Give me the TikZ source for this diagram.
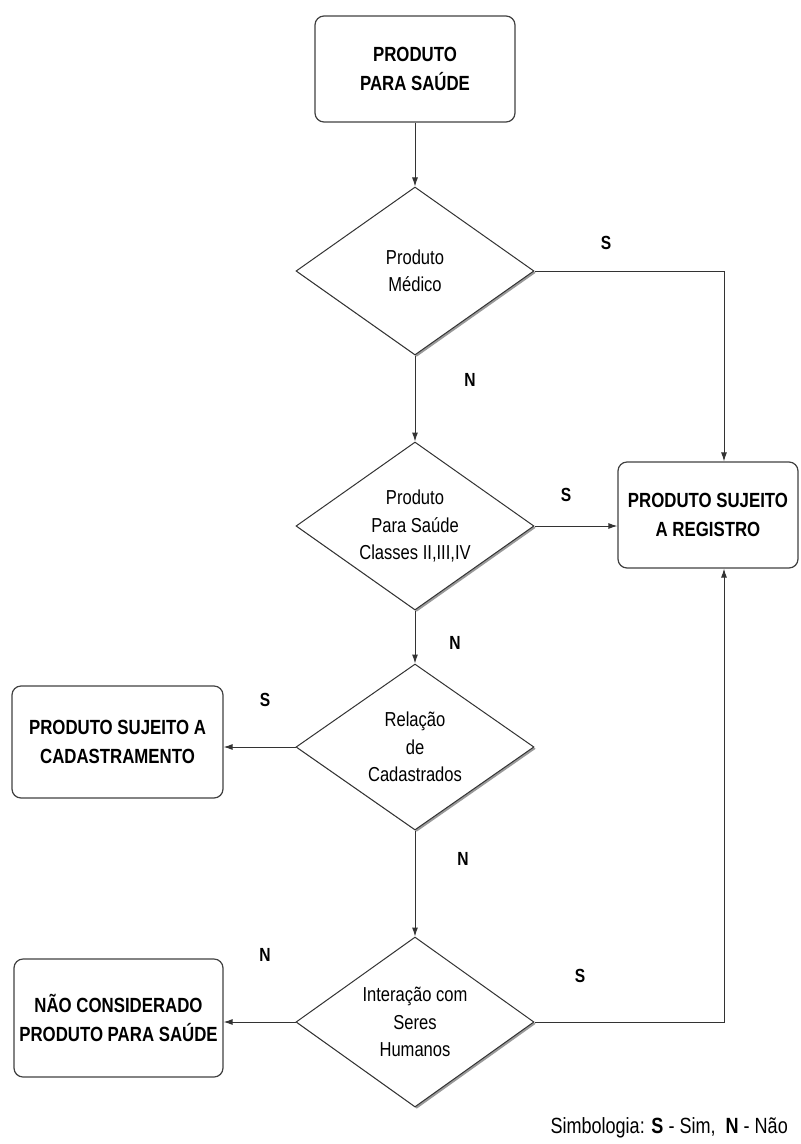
\documentclass[tikz,border=0pt]{standalone}
\usepackage{fontspec}
\setmainfont[FakeStretch=0.82]{Liberation Sans}
\usetikzlibrary{shapes.geometric,arrows.meta,shadows}
\begin{document}
\begin{tikzpicture}[x=1pt,y=-1pt,
  box/.style={draw=black!75, line width=1.2pt, rounded corners=9pt, align=center,
    font=\bfseries\fontsize{20.5}{28.5}\selectfont, inner sep=0pt},
  dec/.style={diamond, draw=black!80, line width=1pt, align=center, inner sep=0pt,
    minimum width=238pt, minimum height=168pt, aspect=1.42, fill=white,
    font=\fontsize{20.2}{27.5}\selectfont,
    drop shadow={shadow xshift=1.8pt, shadow yshift=-1.8pt, fill=black!40, opacity=1}},
  lbl/.style={font=\bfseries\fontsize{19}{20}\selectfont, inner sep=0pt},
  arr/.style={draw=black!80, line width=1pt, -{Latex[length=9pt,width=6pt]}}]
\useasboundingbox (0,0) rectangle (801,1144);
% boxes
\node[box, minimum width=200pt, minimum height=106pt] (top) at (415,69) {PRODUTO\\PARA SAÚDE};
\node[box, minimum width=180pt, minimum height=106pt] (reg) at (708,515) {PRODUTO SUJEITO\\A REGISTRO};
\node[box, minimum width=211pt, minimum height=112pt] (cad) at (117.5,742) {PRODUTO SUJEITO A\\CADASTRAMENTO};
\node[box, minimum width=209pt, minimum height=118pt] (nao) at (118.5,1018) {NÃO CONSIDERADO\\PRODUTO PARA SAÚDE};
% diamonds
\node[dec] (d1) at (415,271) {Produto\\Médico};
\node[dec] (d2) at (415,526) {Produto\\Para Saúde\\Classes II,III,IV};
\node[dec, minimum height=166pt] (d3) at (415,747) {Relação\\de\\Cadastrados};
\node[dec, minimum height=170pt] (d4) at (415,1022) {Interação com\\Seres\\Humanos};
% connectors
\coordinate (c1) at (724,271);
\coordinate (c4) at (724,1022);
\draw[arr] (top) -- (d1);
\draw[arr] (d1) -- (d2);
\draw[arr] (d2) -- (d3);
\draw[arr] (d3) -- (d4);
\draw[arr] (d1.east) -- (c1) -- (c1 |- reg.north);
\draw[arr] (d2.east) -- (d2.east -| reg.west);
\draw[arr] (d3.west) -- (d3.west -| cad.east);
\draw[arr] (d4.west) -- (d4.west -| nao.east);
\draw[arr] (d4.east) -- (c4) -- (c4 |- reg.south);
% labels
\node[lbl] (l1) at (606,243) {S};
\node[lbl] (l2) at (470,380) {N};
\node[lbl] (l3) at (566,495) {S};
\node[lbl] (l4) at (455,643) {N};
\node[lbl] (l5) at (265,700) {S};
\node[lbl] (l6) at (463,859) {N};
\node[lbl] (l7) at (265,955) {N};
\node[lbl] (l8) at (580,976) {S};
\node[anchor=east, inner sep=0pt, font=\fontsize{22}{24}\selectfont] (leg) at (788,1128)
  {Simbologia: \textbf{S} - Sim,\ \ \textbf{N} - Não};
\end{tikzpicture}
\end{document}
